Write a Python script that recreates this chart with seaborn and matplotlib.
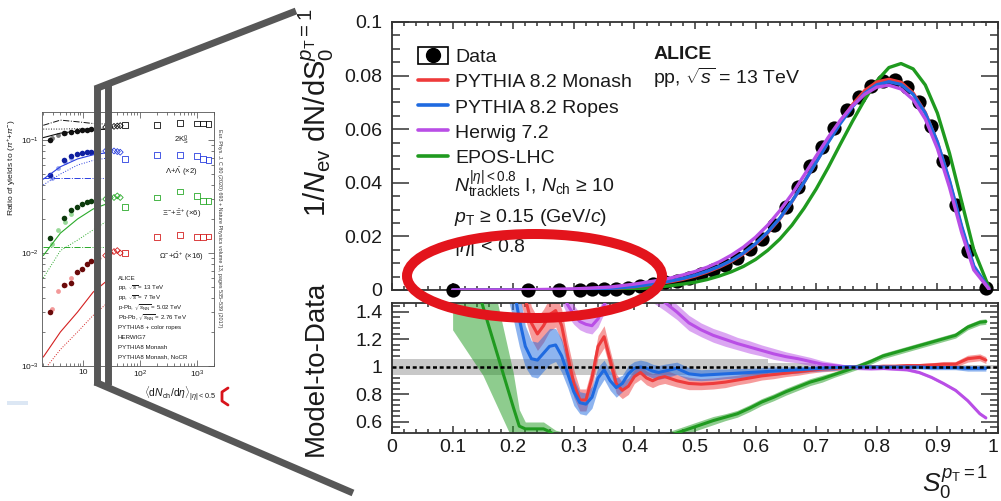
import numpy as np
import pandas as pd
import matplotlib
matplotlib.use("Agg")
import matplotlib.pyplot as plt
import seaborn as sns
from matplotlib.lines import Line2D
from matplotlib.patches import Rectangle, Ellipse
from matplotlib.legend_handler import HandlerTuple
from matplotlib.ticker import MultipleLocator, FixedLocator, FuncFormatter, NullFormatter

sns.set_theme(style="ticks")
plt.rcParams["font.family"] = ["Liberation Sans", "DejaVu Sans"]
plt.rcParams["mathtext.fontset"] = "custom"
plt.rcParams["mathtext.rm"] = "Liberation Sans"
plt.rcParams["mathtext.it"] = "Liberation Sans:italic"
plt.rcParams["mathtext.bf"] = "Liberation Sans:bold"
plt.rcParams["mathtext.sf"] = "Liberation Sans"

# ---------------- S0 distribution (top panel) ----------------
data_x = [0.10, 0.225, 0.275, 0.31, 0.33, 0.35, 0.37, 0.39, 0.41, 0.43, 0.45, 0.47, 0.49,
          0.51, 0.53, 0.55, 0.57, 0.59, 0.61, 0.63, 0.65, 0.67, 0.69, 0.71, 0.73, 0.75,
          0.77, 0.79, 0.81, 0.83, 0.85, 0.87, 0.89, 0.91, 0.93, 0.95, 0.98]
data_y = [0.0, 0.0, 0.0, 0.0001, 0.0002, 0.0003, 0.0005, 0.0009, 0.0015, 0.0021, 0.0028,
          0.0035, 0.0046, 0.0059, 0.0075, 0.0095, 0.0120, 0.0152, 0.0192, 0.0242, 0.0310,
          0.0385, 0.0462, 0.0535, 0.0605, 0.0670, 0.0722, 0.0760, 0.0781, 0.0782, 0.0757,
          0.0703, 0.0612, 0.0483, 0.0318, 0.0145, 0.0008]

model_x = [0.10, 0.20, 0.30, 0.36, 0.40, 0.42, 0.44, 0.46, 0.48, 0.50, 0.52, 0.54, 0.56,
           0.58, 0.60, 0.62, 0.64, 0.66, 0.68, 0.70, 0.72, 0.74, 0.76, 0.78, 0.80, 0.82,
           0.84, 0.86, 0.88, 0.90, 0.92, 0.94, 0.96, 0.985]
monash_y = [0.0, 0.0, 0.0002, 0.0005, 0.0012, 0.0018, 0.0024, 0.0031, 0.0040, 0.0052,
            0.0067, 0.0085, 0.0107, 0.0135, 0.0170, 0.0213, 0.0266, 0.0330, 0.0402, 0.0478,
            0.0555, 0.0628, 0.0692, 0.0744, 0.0776, 0.0786, 0.0775, 0.0735, 0.0662, 0.0551,
            0.0404, 0.0232, 0.0085, 0.0005]
ropes_y = [0.0, 0.0, 0.0002, 0.0006, 0.0013, 0.0019, 0.0026, 0.0034, 0.0043, 0.0055,
           0.0070, 0.0088, 0.0110, 0.0138, 0.0173, 0.0216, 0.0268, 0.0331, 0.0402, 0.0477,
           0.0552, 0.0622, 0.0684, 0.0734, 0.0766, 0.0777, 0.0767, 0.0730, 0.0660, 0.0552,
           0.0408, 0.0238, 0.0090, 0.0005]
herwig_y = [0.0, 0.0, 0.0004, 0.0011, 0.0022, 0.0029, 0.0036, 0.0045, 0.0056, 0.0069,
            0.0085, 0.0105, 0.0130, 0.0160, 0.0197, 0.0242, 0.0296, 0.0358, 0.0428, 0.0500,
            0.0570, 0.0634, 0.0688, 0.0730, 0.0757, 0.0764, 0.0750, 0.0710, 0.0638, 0.0528,
            0.0383, 0.0215, 0.0075, 0.0004]
epos_y = [0.0, 0.0, 0.0001, 0.0002, 0.0004, 0.0007, 0.0011, 0.0016, 0.0022, 0.0029,
          0.0039, 0.0052, 0.0068, 0.0088, 0.0114, 0.0148, 0.0190, 0.0242, 0.0305, 0.0377,
          0.0458, 0.0545, 0.0630, 0.0710, 0.0780, 0.0830, 0.0845, 0.0825, 0.0765, 0.0660,
          0.0510, 0.0330, 0.0150, 0.0010]

# ---------------- Model-to-data ratios (bottom panel) ----------------
ratio_x = [0.10, 0.15, 0.20, 0.21, 0.22, 0.23, 0.24, 0.25, 0.26, 0.27, 0.28, 0.29, 0.30,
           0.31, 0.32, 0.33, 0.34, 0.35, 0.36, 0.37, 0.38, 0.39, 0.40, 0.41, 0.42, 0.43,
           0.44, 0.45, 0.47, 0.49, 0.51, 0.53, 0.55, 0.57, 0.59, 0.61, 0.63, 0.65, 0.67,
           0.69, 0.71, 0.73, 0.75, 0.77, 0.79, 0.81, 0.83, 0.85, 0.87, 0.89, 0.91, 0.93,
           0.95, 0.97, 0.98]
ratio_monash = [3.0, 2.5, 1.9, 1.7, 1.5, 1.32, 1.24, 1.30, 1.38, 1.41, 1.30, 1.08, 0.88,
                0.76, 0.76, 0.92, 1.15, 1.22, 1.05, 0.88, 0.83, 0.86, 0.93, 0.96, 0.92, 0.90,
                0.92, 0.93, 0.90, 0.88, 0.875, 0.88, 0.89, 0.905, 0.92, 0.935, 0.945, 0.955,
                0.965, 0.975, 0.985, 0.99, 0.998, 1.0, 1.0, 1.005, 1.005, 1.01, 1.01, 1.015,
                1.02, 1.02, 1.06, 1.07, 1.05]
band_monash = [0.3, 0.3, 0.25, 0.2, 0.15, 0.12, 0.12, 0.12, 0.12, 0.12, 0.12, 0.1, 0.1,
               0.08, 0.08, 0.08, 0.08, 0.08, 0.07, 0.07, 0.06, 0.06, 0.05, 0.05, 0.05, 0.05,
               0.05, 0.05, 0.045, 0.045, 0.04, 0.04, 0.04, 0.035, 0.035, 0.03, 0.03, 0.025,
               0.025, 0.02, 0.02, 0.02, 0.015, 0.015, 0.015, 0.015, 0.015, 0.015, 0.015,
               0.015, 0.02, 0.02, 0.025, 0.025, 0.025]
ratio_ropes = [3.0, 2.5, 1.6, 1.35, 1.15, 1.06, 1.05, 1.10, 1.15, 1.16, 1.08, 0.95, 0.82,
               0.74, 0.73, 0.78, 0.92, 0.98, 0.90, 0.85, 0.88, 0.95, 0.99, 1.00, 0.99, 0.97,
               0.96, 0.97, 0.99, 0.95, 0.94, 0.945, 0.95, 0.955, 0.96, 0.965, 0.97, 0.975,
               0.98, 0.985, 0.99, 0.995, 1.0, 1.0, 1.0, 1.0, 1.0, 1.0, 1.0, 0.995, 0.995,
               0.995, 0.99, 0.99, 0.99]
band_ropes = [0.3, 0.3, 0.25, 0.2, 0.15, 0.13, 0.13, 0.13, 0.13, 0.12, 0.12, 0.1, 0.1,
              0.08, 0.08, 0.08, 0.08, 0.07, 0.07, 0.07, 0.06, 0.06, 0.05, 0.05, 0.05, 0.05,
              0.05, 0.05, 0.045, 0.045, 0.04, 0.04, 0.035, 0.035, 0.03, 0.03, 0.03, 0.025,
              0.025, 0.02, 0.02, 0.02, 0.015, 0.015, 0.015, 0.015, 0.015, 0.015, 0.015,
              0.015, 0.015, 0.015, 0.02, 0.02, 0.02]
ratio_herwig = [3.0, 2.8, 2.5, 2.3, 2.0, 1.9, 1.8, 1.75, 1.7, 1.65, 1.55, 1.45, 1.38,
                1.33, 1.31, 1.30, 1.35, 1.45, 1.55, 1.60, 1.62, 1.62, 1.60, 1.58, 1.56, 1.53,
                1.50, 1.47, 1.40, 1.32, 1.27, 1.23, 1.20, 1.17, 1.145, 1.12, 1.095, 1.075,
                1.06, 1.04, 1.02, 1.01, 1.0, 0.995, 0.99, 0.99, 0.985, 0.98, 0.96, 0.925,
                0.88, 0.83, 0.755, 0.66, 0.63]
band_herwig = [0.3, 0.3, 0.25, 0.2, 0.15, 0.12, 0.1, 0.1, 0.1, 0.1, 0.08, 0.08, 0.07,
               0.06, 0.06, 0.06, 0.06, 0.06, 0.06, 0.06, 0.06, 0.06, 0.06, 0.06, 0.06, 0.06,
               0.06, 0.06, 0.055, 0.055, 0.05, 0.05, 0.05, 0.045, 0.045, 0.04, 0.04, 0.035,
               0.03, 0.03, 0.025, 0.02, 0.015, 0.015, 0.015, 0.01, 0.01, 0.01, 0.01, 0.01,
               0.01, 0.01, 0.01, 0.01, 0.01]
ratio_epos = [2.17, 1.44, 0.71, 0.57, 0.55, 0.55, 0.55, 0.55, 0.53, 0.50, 0.49, 0.48, 0.42,
              0.35, 0.32, 0.30, 0.30, 0.31, 0.32, 0.34, 0.36, 0.38, 0.40, 0.43, 0.45, 0.46,
              0.47, 0.49, 0.52, 0.55, 0.58, 0.61, 0.635, 0.66, 0.70, 0.745, 0.78, 0.82,
              0.855, 0.89, 0.915, 0.945, 0.975, 1.005, 1.04, 1.08, 1.105, 1.13, 1.155, 1.18,
              1.205, 1.23, 1.29, 1.325, 1.33]
band_epos = [0.9, 0.5, 0.25, 0.12, 0.05, 0.05, 0.05, 0.05, 0.04, 0.04, 0.04, 0.04, 0.04,
             0.04, 0.04, 0.04, 0.04, 0.04, 0.04, 0.04, 0.04, 0.04, 0.04, 0.035, 0.035, 0.03,
             0.03, 0.03, 0.03, 0.03, 0.03, 0.03, 0.025, 0.025, 0.025, 0.025, 0.025, 0.025,
             0.025, 0.025, 0.025, 0.02, 0.02, 0.02, 0.02, 0.02, 0.02, 0.02, 0.02, 0.02,
             0.02, 0.02, 0.02, 0.02, 0.02]

# data uncertainty band around unity (bin edges and half widths)
unc_edges = [0.0, 0.43, 0.62, 0.70, 1.0]
unc_half = [0.055, 0.055, 0.03, 0.012]

# ---------------- Strangeness enhancement thumbnail ----------------
thumb_pp_x = [2.6, 4.6, 6.2, 7.8, 9.5, 11.5, 14, 18]
thumb_ppb_x = [25, 30, 35, 40, 45]
thumb_pbpb_x = [55, 200, 500, 1000, 1300, 1600]
thumb_pp7_x = [2.8, 3.6, 4.8, 6.2]
thumb_model_x = [2.0, 4.0, 8.0, 15.0, 30.0]

k0s_pp = [0.100, 0.115, 0.118, 0.120, 0.122, 0.123, 0.125, 0.127]
k0s_ppb = [0.130, 0.130, 0.132, 0.133, 0.134]
k0s_pbpb = [0.135, 0.136, 0.141, 0.140, 0.140, 0.139]
k0s_pp7 = [0.105, 0.110, 0.115, 0.118]
lam_pp = [0.049, 0.067, 0.072, 0.075, 0.077, 0.078, 0.079, 0.080]
lam_ppb = [0.080, 0.081, 0.080, 0.079, 0.078]
lam_pbpb = [0.068, 0.074, 0.074, 0.072, 0.068, 0.067]
lam_pp7 = [0.046, 0.056, 0.064, 0.069]
xi_pp = [0.0135, 0.0204, 0.0240, 0.0255, 0.0270, 0.0280, 0.0290, 0.0300]
xi_ppb = [0.0300, 0.0310, 0.0310, 0.0320, 0.0310]
xi_pbpb = [0.0255, 0.0310, 0.0350, 0.0320, 0.0290, 0.0290]
xi_pp7 = [0.0120, 0.0160, 0.0190, 0.0220]
om_pp = [0.0030, 0.0052, 0.0054, 0.0068, 0.0072, 0.0080, 0.0085, 0.0090]
om_ppb = [0.0095, 0.0100, 0.0103, 0.0105, 0.0100]
om_pbpb = [0.0100, 0.0138, 0.0145, 0.0138, 0.0138, 0.0140]
om_pp7 = [0.0032, 0.0046, 0.0052, 0.0060]

k0s_ropes = [0.105, 0.115, 0.120, 0.123, 0.125]
k0s_herwig = [0.135, 0.150, 0.145, 0.140, 0.138]
k0s_monash = [0.125, 0.125, 0.126, 0.126, 0.126]
lam_ropes = [0.045, 0.058, 0.068, 0.074, 0.078]
lam_herwig = [0.046, 0.046, 0.046, 0.046, 0.046]
lam_monash = [0.040, 0.050, 0.060, 0.066, 0.070]
xi_ropes = [0.0095, 0.0150, 0.0200, 0.0245, 0.0280]
xi_herwig = [0.0112, 0.0112, 0.0112, 0.0112, 0.0112]
xi_monash = [0.0060, 0.0105, 0.0130, 0.0160, 0.0200]
om_ropes = [0.0012, 0.0020, 0.0030, 0.0045, 0.0060]
om_herwig = [0.0010, 0.0010, 0.0010, 0.0010, 0.0010]
om_monash = [0.0009, 0.0014, 0.0020, 0.0028, 0.0038]

thumb_species = ["2K$^0_\\mathrm{S}$", "$\\Lambda$+$\\bar{\\Lambda}$ (×2)",
                 "$\\Xi^{-}$+$\\bar{\\Xi}^{+}$ (×6)", "$\\Omega^{-}$+$\\bar{\\Omega}^{+}$ (×16)"]
thumb_legend = ["ALICE", "pp, $\\sqrt{s}$ = 13 TeV", "pp, $\\sqrt{s}$ = 7 TeV",
                "p-Pb, $\\sqrt{s_\\mathrm{NN}}$ = 5.02 TeV", "Pb-Pb, $\\sqrt{s_\\mathrm{NN}}$ = 2.76 TeV",
                "PYTHIA8 + color ropes", "HERWIG7", "PYTHIA8 Monash", "PYTHIA8 Monash, NoCR"]

# ---------------- figure ----------------
W, H = 1001, 501
fig = plt.figure(figsize=(W / 100, H / 100), dpi=100)
fig.patch.set_facecolor("white")


def fx(x):
    return x / W


def fy(y):
    return 1 - y / H


C_RED = "#ee3b3b"
C_BLUE = "#1f6ae0"
C_PURPLE = "#b94ee6"
C_GREEN = "#1f9a1f"
INK = "#1a1a1a"
SPINE = "#333333"

ax1 = fig.add_axes([fx(392), fy(290), 606 / W, 268 / H])
ax2 = fig.add_axes([fx(392), fy(433), 606 / W, 130 / H])

# top panel: data points and generator curves
sns.scatterplot(x=data_x, y=data_y, ax=ax1, color="black", s=105, edgecolor="black",
                linewidth=0, zorder=3, clip_on=False, legend=False)
models = [("EPOS-LHC", epos_y, C_GREEN), ("PYTHIA 8.2 Monash", monash_y, C_RED),
          ("PYTHIA 8.2 Ropes", ropes_y, C_BLUE), ("Herwig 7.2", herwig_y, C_PURPLE)]
for name, yv, c in models:
    df = pd.DataFrame({"S0": model_x, "dN": yv})
    sns.lineplot(data=df, x="S0", y="dN", ax=ax1, color=c, lw=2.4, estimator=None,
                 sort=False, zorder=4, legend=False)
ax1.set_xlim(0, 1)
ax1.set_ylim(0, 0.1)
ax1.set_xlabel("")
ax1.set_ylabel("")

# bottom panel: ratios with bands
for e0, e1, h in zip(unc_edges[:-1], unc_edges[1:], unc_half):
    ax2.fill_between([e0, e1], [1 - h, 1 - h], [1 + h, 1 + h], color="#c8c8c8",
                     lw=0, zorder=1)
ratios = [("EPOS", ratio_epos, band_epos, C_GREEN), ("Monash", ratio_monash, band_monash, C_RED),
          ("Herwig", ratio_herwig, band_herwig, C_PURPLE), ("Ropes", ratio_ropes, band_ropes, C_BLUE)]
rx = np.array(ratio_x)
for name, rv, bv, c in ratios:
    rv = np.array(rv)
    bv = np.array(bv)
    ax2.fill_between(rx, rv - bv, rv + bv, color=c, alpha=0.5, lw=0, zorder=2)
for name, rv, bv, c in ratios:
    df = pd.DataFrame({"S0": ratio_x, "ratio": rv})
    sns.lineplot(data=df, x="S0", y="ratio", ax=ax2, color=c, lw=2.2, estimator=None,
                 sort=False, zorder=3, legend=False)
ax2.axhline(1.0, color="black", lw=1.8, ls=(0, (1.6, 1.1)), zorder=5)
ax2.set_xlim(0, 1)
ax2.set_ylim(0.52, 1.465)
ax2.set_xlabel("")
ax2.set_ylabel("")

fmt = FuncFormatter(lambda v, p: "0" if abs(v) < 1e-9 else f"{v:g}")
for ax in (ax1, ax2):
    ax.xaxis.set_major_locator(MultipleLocator(0.1))
    ax.xaxis.set_minor_locator(MultipleLocator(0.02))
    ax.xaxis.set_major_formatter(fmt)
    ax.yaxis.set_major_formatter(fmt)
    for s in ax.spines.values():
        s.set_color(SPINE)
        s.set_linewidth(1.3)
    ax.tick_params(which="both", direction="in", top=True, right=True, color=SPINE,
                   width=1.1, labelsize=14, labelcolor=INK)
    ax.tick_params(axis="x", which="major", length=5)
    ax.tick_params(axis="x", which="minor", length=3)
    ax.tick_params(axis="y", which="major", length=12, pad=7)
    ax.tick_params(axis="y", which="minor", length=6)
    ax.set_facecolor("white")
ax1.yaxis.set_major_locator(MultipleLocator(0.02))
ax1.yaxis.set_minor_locator(MultipleLocator(0.005))
ax1.tick_params(axis="x", labelbottom=False)
ax2.yaxis.set_major_locator(FixedLocator([0.6, 0.8, 1.0, 1.2, 1.4]))
ax2.yaxis.set_minor_locator(MultipleLocator(0.04))
ax2.tick_params(axis="x", pad=4)

# keep the label at x = 1 inside the canvas
fig.canvas.draw()
last_label = [t for t in ax2.get_xticklabels() if t.get_text() == "1"]
for t in last_label:
    t.set_horizontalalignment("right")

# legend
data_handle = (Rectangle((0, 0), 1, 1, facecolor="none", edgecolor="black", lw=1.2),
               Line2D([], [], marker="o", ls="", color="black", ms=10))
handles = [data_handle] + [Line2D([], [], color=c, lw=2.6) for _, _, c in
                           [models[1], models[2], models[3], models[0]]]
labels = ["Data", "PYTHIA 8.2 Monash", "PYTHIA 8.2 Ropes", "Herwig 7.2", "EPOS-LHC"]
leg = ax1.legend(handles, labels, loc="upper left", bbox_to_anchor=(0.043, 0.905),
                 frameon=False, fontsize=14, handlelength=1.55, handleheight=0.9,
                 handletextpad=0.36, labelspacing=0.33, borderpad=0, borderaxespad=0,
                 handler_map={tuple: HandlerTuple(ndivide=1)})
for t in leg.get_texts():
    t.set_color(INK)

ax1.text(0.102, 0.392, "$N_{\\mathrm{tracklets}}^{|\\eta|<0.8}$ I, $N_{\\mathrm{ch}}$ ≥ 10",
         transform=ax1.transAxes, fontsize=14, color=INK, va="center", ha="left")
ax1.text(0.102, 0.269, "$p_{\\mathrm{T}}$ ≥ 0.15 (GeV/$c$)", transform=ax1.transAxes,
         fontsize=14, color=INK, va="center", ha="left")
ax1.text(0.102, 0.158, "|$\\eta$| < 0.8", transform=ax1.transAxes, fontsize=14, color=INK,
         va="center", ha="left")
ax1.text(0.431, 0.877, "ALICE", transform=ax1.transAxes, fontsize=14, fontweight="bold",
         color=INK, va="center", ha="left")
ax1.text(0.431, 0.791, "pp, $\\sqrt{s}$ = 13 TeV", transform=ax1.transAxes, fontsize=14,
         color=INK, va="center", ha="left")

# axis titles
fig.text(fx(316), fy(8), "$1/N_{\\mathrm{ev}}\\ \\mathrm{dN/dS}_0^{p_{\\mathrm{T}}=1}$",
         rotation=90, ha="center", va="top", fontsize=21, color=INK)
fig.text(fx(316), fy(456), "Model-to-Data", rotation=90, ha="center", va="bottom",
         fontsize=20, color=INK)
fig.text(fx(922), fy(492), "$S_0^{p_{\\mathrm{T}}=1}$", ha="left", va="baseline",
         fontsize=19, color=INK)

# ---------------- thumbnail panel ----------------
axt = fig.add_axes([fx(42), fy(366), 172 / W, 254 / H])
axt.set_xscale("log")
axt.set_yscale("log")
species = [
    (k0s_pp, k0s_ppb, k0s_pbpb, k0s_pp7, k0s_ropes, k0s_herwig, k0s_monash, "#111111", "#111111", "#555555"),
    (lam_pp, lam_ppb, lam_pbpb, lam_pp7, lam_ropes, lam_herwig, lam_monash, "#1020a0", "#2a3fe0", "#8090f0"),
    (xi_pp, xi_ppb, xi_pbpb, xi_pp7, xi_ropes, xi_herwig, xi_monash, "#0c3a0c", "#2aaa2a", "#80d080"),
    (om_pp, om_ppb, om_pbpb, om_pp7, om_ropes, om_herwig, om_monash, "#6a0a0a", "#d42020", "#f08080"),
]
for pp, ppb, pbpb, pp7, ropes, herwig, monash, cdark, cmain, clight in species:
    sns.lineplot(x=thumb_model_x, y=ropes, ax=axt, color=cmain, lw=0.8, estimator=None,
                 sort=False, legend=False)
    sns.lineplot(x=thumb_model_x, y=herwig, ax=axt, color=cmain, lw=0.7, estimator=None,
                 sort=False, legend=False, linestyle="-.")
    sns.lineplot(x=thumb_model_x, y=monash, ax=axt, color=cmain, lw=0.7, estimator=None,
                 sort=False, legend=False, linestyle=":")
    sns.scatterplot(x=thumb_pp7_x, y=pp7, ax=axt, color=clight, marker="o", s=12,
                    edgecolor=clight, linewidth=0, alpha=0.8, legend=False)
    sns.scatterplot(x=thumb_pp_x, y=pp, ax=axt, color=cdark, marker="o", s=16,
                    edgecolor=cdark, linewidth=0, legend=False)
    sns.scatterplot(x=thumb_ppb_x, y=ppb, ax=axt, color=cmain, marker="D", s=9,
                    facecolor="none", edgecolor=cmain, linewidth=0.6, legend=False)
    sns.scatterplot(x=thumb_pbpb_x, y=pbpb, ax=axt, color=cmain, marker="s", s=18,
                    facecolor="none", edgecolor=cmain, linewidth=0.6, legend=False)
axt.set_xlim(1.9, 2000)
axt.set_ylim(1e-3, 0.177)
axt.set_xlabel("")
axt.set_ylabel("")
axt.xaxis.set_major_locator(FixedLocator([10, 100, 1000]))
axt.xaxis.set_major_formatter(FuncFormatter(lambda v, p: {10: "10", 100: "10$^2$", 1000: "10$^3$"}.get(int(round(v)), "")))
axt.xaxis.set_minor_formatter(NullFormatter())
axt.yaxis.set_major_locator(FixedLocator([1e-3, 1e-2, 1e-1]))
axt.yaxis.set_major_formatter(FuncFormatter(lambda v, p: "10$^{%d}$" % int(round(np.log10(v)))))
axt.yaxis.set_minor_formatter(NullFormatter())
axt.tick_params(which="both", direction="in", top=True, right=True, labelsize=6.0,
                color="#444444", width=0.5, pad=2, labelcolor=INK)
axt.tick_params(which="major", length=4)
axt.tick_params(which="minor", length=2)
for s in axt.spines.values():
    s.set_color("#555555")
    s.set_linewidth(0.6)
for lab, yy in zip(thumb_species, [0.89, 0.764, 0.60, 0.43]):
    axt.text(0.81, yy, lab, transform=axt.transAxes, fontsize=5.6, ha="center",
             va="center", color=INK)
for i, lab in enumerate(thumb_legend):
    axt.text(0.44, 0.346 - i * 0.0388, lab, transform=axt.transAxes, fontsize=4.4,
             ha="left", va="center", color=INK)
fig.text(fx(12), fy(168), "Ratio of yields to ($\\pi^{+}$+$\\pi^{-}$)", rotation=90,
         ha="center", va="center", fontsize=6.1, color=INK)
fig.text(fx(180), fy(394), "$\\langle\\mathrm{d}N_{\\mathrm{ch}}/\\mathrm{d}\\eta\\rangle_{|\\eta|<0.5}$",
         ha="center", va="center", fontsize=7.5, color=INK)
fig.text(fx(219), fy(228), "Eur. Phys. J. C 80 (2020) 693 + Nature Physics volume 13, pages 535–539 (2017)",
         rotation=-90, ha="center", va="center", fontsize=3.9, color="#333333")
fig.add_artist(Rectangle((fx(7), fy(405)), 21 / W, 4 / H, transform=fig.transFigure,
                         facecolor="#dce7f4", edgecolor="none"))
fig.add_artist(Line2D([fx(228), fx(222), fx(222), fx(228)], [fy(388), fy(392), fy(401), fy(405)],
                      transform=fig.transFigure, color="#d8141c", lw=2.0))

# zoom guides linking the thumbnail to the main plot
guide = dict(transform=fig.transFigure, color="#575757", lw=5, solid_capstyle="butt",
             solid_joinstyle="miter")
fig.add_artist(Line2D([fx(97), fx(97)], [fy(86), fy(385)], **guide))
fig.add_artist(Line2D([fx(108), fx(108)], [fy(84), fy(385)], **guide))
fig.add_artist(Line2D([fx(95), fx(296)], [fy(89), fy(11)], **guide))
fig.add_artist(Line2D([fx(95), fx(353)], [fy(382), fy(493)], **guide))

# highlight of the low-S0 region
fig.add_artist(Ellipse((fx(534.5), fy(276)), 255 / W, 84 / H, transform=fig.transFigure,
                       facecolor="none", edgecolor="#e3141c", lw=7.2, zorder=10))

fig.savefig("out.png", dpi=100, facecolor="white")
